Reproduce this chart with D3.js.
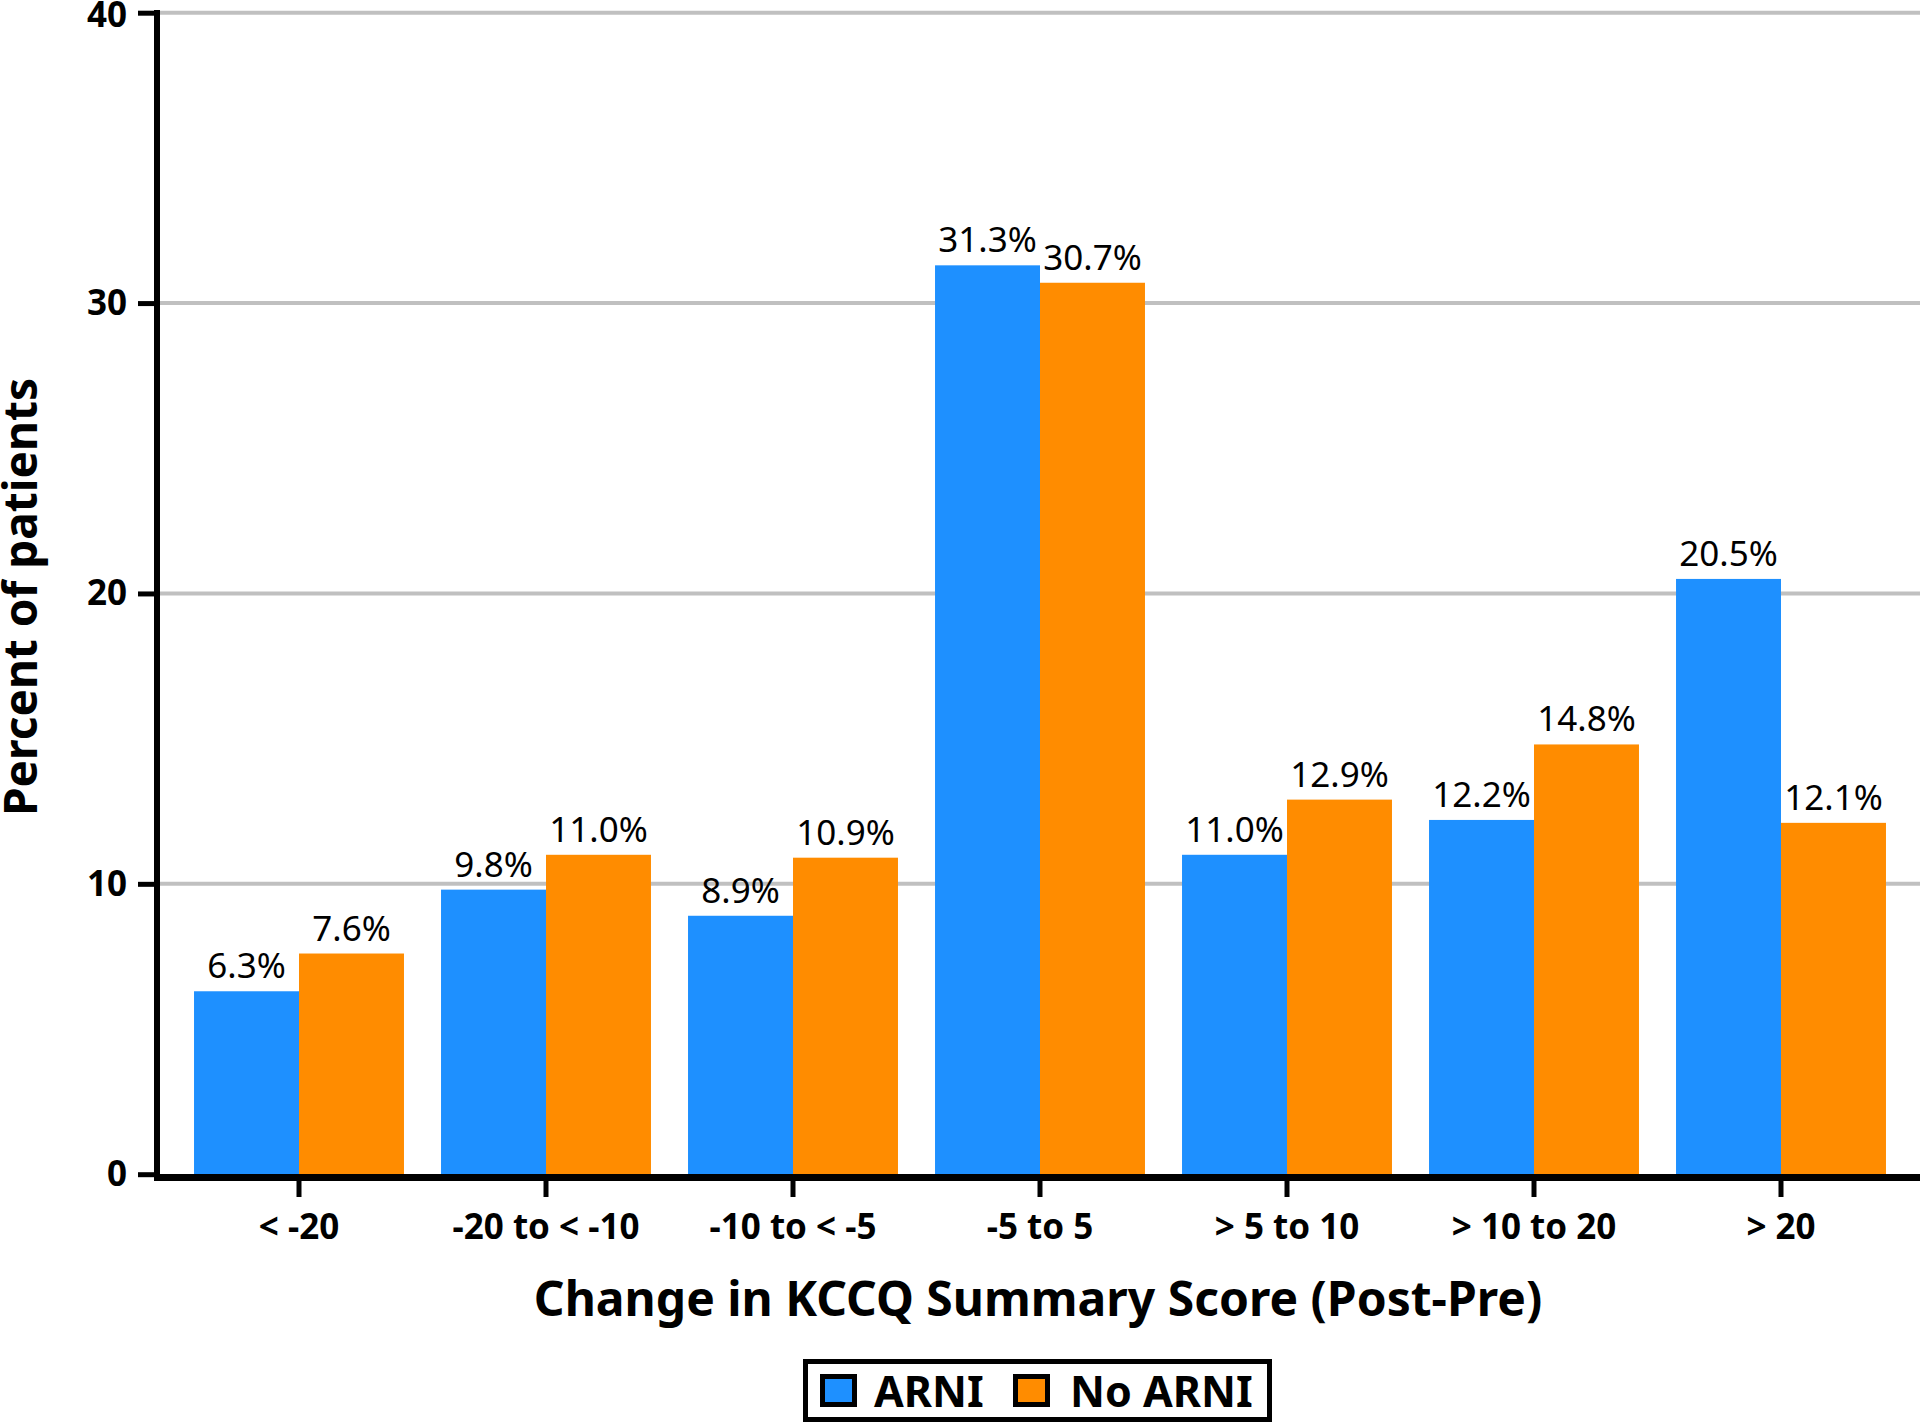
<!DOCTYPE html>
<html>
<head>
<meta charset="utf-8">
<script src="https://cdn.jsdelivr.net/npm/d3@7"></script>
<style>
  body { margin: 0; background: #fff; }
  svg { display: block; font-family: "Noto Sans", "Open Sans", sans-serif; }
</style>
</head>
<body>
<svg id="chart" width="1920" height="1423"></svg>
<script>
// Chart data
var categories = ["< -20", "-20 to < -10", "-10 to < -5", "-5 to 5", "> 5 to 10", "> 10 to 20", "> 20"];
var seriesNames = ["ARNI", "No ARNI"];
var arniValues = [6.3, 9.8, 8.9, 31.3, 11.0, 12.2, 20.5];
var noArniValues = [7.6, 11.0, 10.9, 30.7, 12.9, 14.8, 12.1];
var yTicks = [0, 10, 20, 30, 40];

var colors = { "ARNI": "#1e90ff", "No ARNI": "#ff8c00" };

var svg = d3.select("#chart");

// Scales
var x = d3.scaleBand()
    .domain(categories)
    .range([175.5, 1904.5])
    .paddingInner(0.15)
    .paddingOuter(0.075);

var xSub = d3.scaleBand()
    .domain(seriesNames)
    .range([0, x.bandwidth()]);

var y = d3.scaleLinear()
    .domain([0, 40])
    .range([1174.2, 12.7]);

// Gridlines behind bars
svg.append("g")
    .selectAll("line")
    .data(yTicks.filter(function(d) { return d > 0; }))
    .enter().append("line")
    .attr("x1", 160)
    .attr("x2", 1920)
    .attr("y1", function(d) { return y(d); })
    .attr("y2", function(d) { return y(d); })
    .attr("stroke", "#c0c0c0")
    .attr("stroke-width", 4);

// Build rows for the bars
var rows = categories.map(function(c, i) {
    return [
        { cat: c, series: "ARNI", value: arniValues[i] },
        { cat: c, series: "No ARNI", value: noArniValues[i] }
    ];
});

var groups = svg.append("g")
    .selectAll("g")
    .data(rows)
    .enter().append("g")
    .attr("transform", function(d) { return "translate(" + x(d[0].cat) + ",0)"; });

groups.selectAll("rect")
    .data(function(d) { return d; })
    .enter().append("rect")
    .attr("x", function(d) { return xSub(d.series); })
    .attr("width", xSub.bandwidth())
    .attr("y", function(d) { return y(d.value); })
    .attr("height", function(d) { return y(0) - y(d.value); })
    .attr("fill", function(d) { return colors[d.series]; });

// Value labels above the bars
groups.selectAll("text")
    .data(function(d) { return d; })
    .enter().append("text")
    .attr("x", function(d) { return xSub(d.series) + xSub.bandwidth() / 2; })
    .attr("y", function(d) { return y(d.value) - 13; })
    .attr("text-anchor", "middle")
    .attr("font-size", 35)
    .attr("fill", "#000")
    .text(function(d) { return d.value.toFixed(1) + "%"; });

// Y axis
var yAxis = svg.append("g")
    .attr("transform", "translate(157,0)")
    .call(d3.axisLeft(y).tickValues(yTicks).tickSize(19).tickSizeOuter(0).tickPadding(11));
yAxis.select(".domain").remove();
yAxis.selectAll(".tick line").attr("stroke", "#000").attr("stroke-width", 5);
yAxis.selectAll(".tick text")
    .attr("font-family", "Noto Sans")
    .attr("font-size", 35)
    .attr("font-weight", "bold")
    .attr("fill", "#000")
    .attr("dy", function(d) { return d === 40 ? "0.4em" : "0.32em"; });

svg.append("line")
    .attr("x1", 157).attr("x2", 157)
    .attr("y1", 10).attr("y2", 1181)
    .attr("stroke", "#000").attr("stroke-width", 6);

// X axis
var xAxis = svg.append("g")
    .attr("transform", "translate(0,1181)")
    .call(d3.axisBottom(x).tickSize(16).tickSizeOuter(0).tickPadding(17));
xAxis.select(".domain").remove();
xAxis.selectAll(".tick line").attr("stroke", "#000").attr("stroke-width", 5);
xAxis.selectAll(".tick text")
    .attr("font-family", "Noto Sans")
    .attr("font-size", 35)
    .attr("font-weight", "bold")
    .attr("fill", "#000");

svg.append("line")
    .attr("x1", 154).attr("x2", 1920)
    .attr("y1", 1177.5).attr("y2", 1177.5)
    .attr("stroke", "#000").attr("stroke-width", 7);

// Axis titles
svg.append("text")
    .attr("x", 1038)
    .attr("y", 1316)
    .attr("text-anchor", "middle")
    .attr("font-size", 48)
    .attr("font-weight", "bold")
    .text("Change in KCCQ Summary Score (Post-Pre)");

svg.append("text")
    .attr("transform", "translate(37,597) rotate(-90)")
    .attr("text-anchor", "middle")
    .attr("font-size", 46)
    .attr("font-weight", "bold")
    .text("Percent of patients");

// Legend
var legend = svg.append("g");
legend.append("rect")
    .attr("x", 805.5).attr("y", 1361.5)
    .attr("width", 464).attr("height", 58)
    .attr("fill", "#fff")
    .attr("stroke", "#000").attr("stroke-width", 5);

var legendItems = [
    { name: seriesNames[0], box: 822.5, text: 874 },
    { name: seriesNames[1], box: 1015.5, text: 1070 }
];
legendItems.forEach(function(it) {
    legend.append("rect")
        .attr("x", it.box).attr("y", 1376.5)
        .attr("width", 32).attr("height", 28)
        .attr("fill", colors[it.name])
        .attr("stroke", "#000").attr("stroke-width", 5);
    legend.append("text")
        .attr("x", it.text).attr("y", 1407)
        .attr("font-size", 43)
        .attr("font-weight", "bold")
        .text(it.name);
});
</script>
</body>
</html>
